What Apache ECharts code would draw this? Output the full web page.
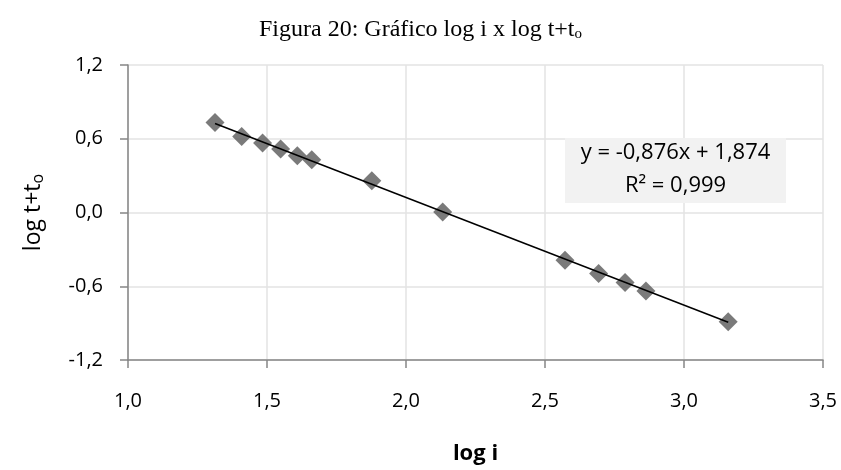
<!DOCTYPE html>
<html>
<head>
<meta charset="utf-8">
<script src="https://cdn.jsdelivr.net/npm/echarts@6/dist/echarts.min.js"></script>
<style>html,body{margin:0;padding:0;background:#fff}#c{width:841px;height:470px}</style>
</head>
<body>
<div id="c"></div>
<script>
const logI = [1.313, 1.409, 1.484, 1.549, 1.609, 1.661, 1.877, 2.132, 2.572, 2.693, 2.788, 2.863, 3.159];
const logT = [0.732, 0.619, 0.565, 0.516, 0.462, 0.430, 0.259, 0.005, -0.389, -0.497, -0.570, -0.638, -0.889];
const slope = -0.876;
const intercept = 1.874;
const r2 = 0.999;
const xTicks = [1.0, 1.5, 2.0, 2.5, 3.0, 3.5];
const yTicks = [-1.2, -0.6, 0.0, 0.6, 1.2];

const fmt = v => v.toFixed(1).replace('.', ',');
const fmt3 = v => v.toFixed(3).replace('.', ',');
const xMin = Math.min(...logI), xMax = Math.max(...logI);
const trend = [[xMin, slope * xMin + intercept], [xMax, slope * xMax + intercept]];

const chart = echarts.init(document.getElementById('c'));
const FONT = '"Open Sans", sans-serif';
chart.setOption({
  animation: false,
  title: {
    text: 'Figura 20: Gráfico log i x log t+t{s|o}',
    left: 'center', top: 12,
    textStyle: {
      fontFamily: '"Liberation Serif", "Times New Roman", serif', fontSize: 24, fontWeight: 'normal', color: '#000',
      rich: { s: { fontFamily: '"Liberation Serif", serif', fontSize: 15, verticalAlign: 'bottom', padding: [10, 0, 0, 0], color: '#000' } }
    }
  },
  grid: { left: 128, right: 18, top: 65, bottom: 109 },
  xAxis: {
    type: 'value', min: xTicks[0], max: xTicks[xTicks.length - 1], interval: 0.5,
    name: 'log i', nameLocation: 'middle', nameGap: 83,
    nameTextStyle: { fontFamily: FONT, fontSize: 22, fontWeight: 'bold', color: '#000' },
    axisLine: { show: true, onZero: false, lineStyle: { color: '#868686', width: 1.5 } },
    axisTick: { show: true, length: 8, lineStyle: { color: '#868686', width: 1.5 } },
    axisLabel: { formatter: fmt, fontFamily: FONT, fontSize: 20, color: '#000', margin: 31 },
    splitLine: { show: true, lineStyle: { color: '#e3e3e3', width: 1.5 } }
  },
  yAxis: {
    type: 'value', min: yTicks[0], max: yTicks[yTicks.length - 1], interval: 0.6,
    name: 'log t+t{s|o}', nameLocation: 'middle', nameGap: 82, nameRotate: 90,
    nameTextStyle: {
      fontFamily: FONT, fontSize: 23, fontWeight: 'normal', color: '#000',
      rich: { s: { fontFamily: FONT, fontSize: 16, fontWeight: 'normal', verticalAlign: 'bottom', padding: [9, 0, 0, 0], color: '#000' } }
    },
    axisLine: { show: true, onZero: false, lineStyle: { color: '#868686', width: 1.5 } },
    axisTick: { show: true, length: 8, lineStyle: { color: '#868686', width: 1.5 } },
    axisLabel: { formatter: fmt, fontFamily: FONT, fontSize: 20, color: '#000', margin: 25 },
    splitLine: { show: true, lineStyle: { color: '#e3e3e3', width: 1.5 } }
  },
  series: [
    {
      type: 'scatter', symbol: 'diamond', symbolSize: 19,
      itemStyle: { color: '#595959' },
      data: logI.map((x, i) => [x, logT[i]]), z: 2
    },
    {
      type: 'line', data: trend, symbol: 'none', silent: true,
      lineStyle: { color: '#000', width: 1.5 }, z: 3
    }
  ],
  graphic: [
    { type: 'rect', shape: { x: 565, y: 138, width: 221, height: 65 }, style: { fill: '#f2f2f2' }, z: 1 },
    { type: 'text', x: 675.5, y: 153, style: { text: 'y = ' + fmt3(slope) + 'x + ' + fmt3(intercept), font: '22px "Open Sans", sans-serif', fill: '#000', align: 'center', verticalAlign: 'middle' }, z: 10 },
    { type: 'text', x: 675.5, y: 186, style: { text: 'R² = ' + fmt3(r2), font: '22px "Open Sans", sans-serif', fill: '#000', align: 'center', verticalAlign: 'middle' }, z: 10 }
  ]
});
</script>
</body>
</html>
